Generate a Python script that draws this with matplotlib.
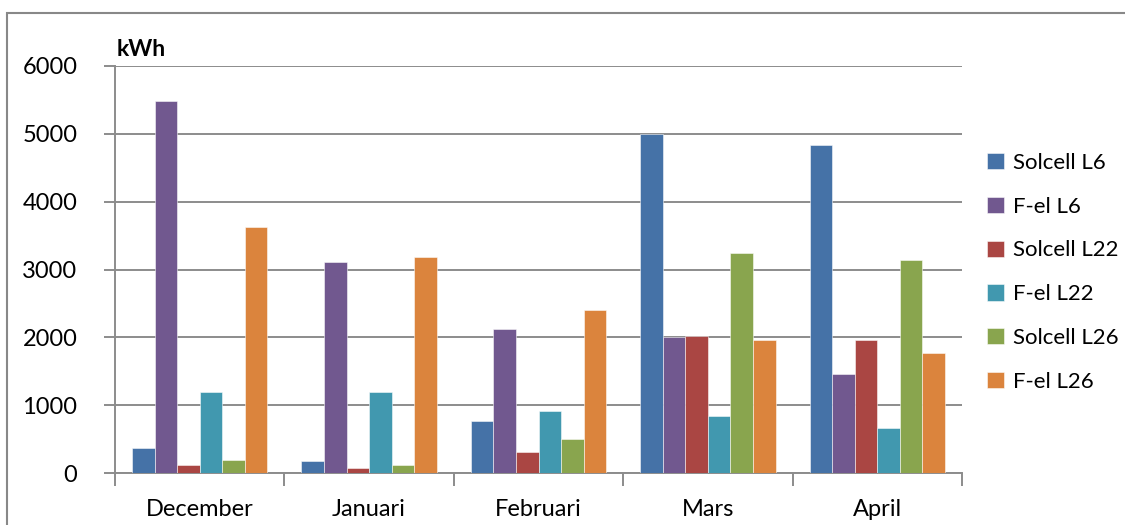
import matplotlib
matplotlib.use("Agg")
import matplotlib.pyplot as plt
import numpy as np
from matplotlib.patches import Rectangle

months = ["December", "Januari", "Februari", "Mars", "April"]
series_names = ["Solcell L6", "F-el L6", "Solcell L22", "F-el L22", "Solcell L26", "F-el L26"]
solcell_l6 = [365, 170, 765, 5000, 4840]
fel_l6 = [5490, 3115, 2120, 2005, 1465]
solcell_l22 = [125, 75, 315, 2015, 1955]
fel_l22 = [1190, 1200, 920, 840, 660]
solcell_l26 = [185, 125, 500, 3245, 3145]
fel_l26 = [3625, 3180, 2400, 1955, 1770]
y_ticks = [0, 1000, 2000, 3000, 4000, 5000, 6000]

colors = ["#4572A7", "#71588F", "#AA4643", "#4198AF", "#89A54E", "#DB843D"]
values = [solcell_l6, fel_l6, solcell_l22, fel_l22, solcell_l26, fel_l26]

plt.rcParams["font.family"] = ["Lato", "DejaVu Sans"]

fig = plt.figure(figsize=(11.25, 5.25), dpi=100)
ax = fig.add_axes([115 / 1125, 1 - 473 / 525, (962 - 115) / 1125, (473 - 66) / 525])

# outer chart frame (top and left edges visible)
fig.add_artist(Rectangle((7 / 1125, -0.1), 1.2, (525 - 13) / 525 + 0.1,
                         transform=fig.transFigure, fill=False,
                         edgecolor="#888888", linewidth=1.5))

n = len(series_names)
bar_w = 1 / 7.5
x = np.arange(len(months))
for i, (name, vals, c) in enumerate(zip(series_names, values, colors)):
    offs = (i - (n - 1) / 2) * bar_w
    ax.bar(x + offs, vals, width=bar_w, color=c, edgecolor=(1, 1, 1, 0.6),
           linewidth=0.6, label=name, zorder=3)

ax.set_xlim(-0.5, len(months) - 0.5)
ax.set_ylim(0, 6000)
ax.set_yticks(y_ticks)
ax.set_yticklabels([str(v) for v in y_ticks], fontsize=17)
ax.yaxis.grid(True, color="#8c8c8c", linewidth=1.4, zorder=0)
ax.set_axisbelow(True)

# category labels centred, ticks at category boundaries
ax.set_xticks(x)
ax.set_xticklabels(months, fontsize=17)
ax.tick_params(axis="x", length=0, pad=19)
ax.set_xticks(np.arange(-0.5, len(months) + 0.5, 1), minor=True)
ax.tick_params(axis="x", which="minor", length=9, width=1.4, color="#8c8c8c")
ax.tick_params(axis="y", length=8, width=1.4, color="#8c8c8c", pad=19)

for s in ["top", "right"]:
    ax.spines[s].set_visible(False)
for s in ["left", "bottom"]:
    ax.spines[s].set_color("#8c8c8c")
    ax.spines[s].set_linewidth(1.4)

fig.text(117 / 1125, 1 - 56 / 525, "kWh", fontsize=16.5, fontweight="bold",
         ha="left", va="baseline")

leg = ax.legend(loc="center left", bbox_to_anchor=(1.006, 0.493), frameon=False,
                fontsize=16, handlelength=0.75, handleheight=0.75,
                handletextpad=0.4, labelspacing=1.07)

fig.savefig("out.png", dpi=100)
